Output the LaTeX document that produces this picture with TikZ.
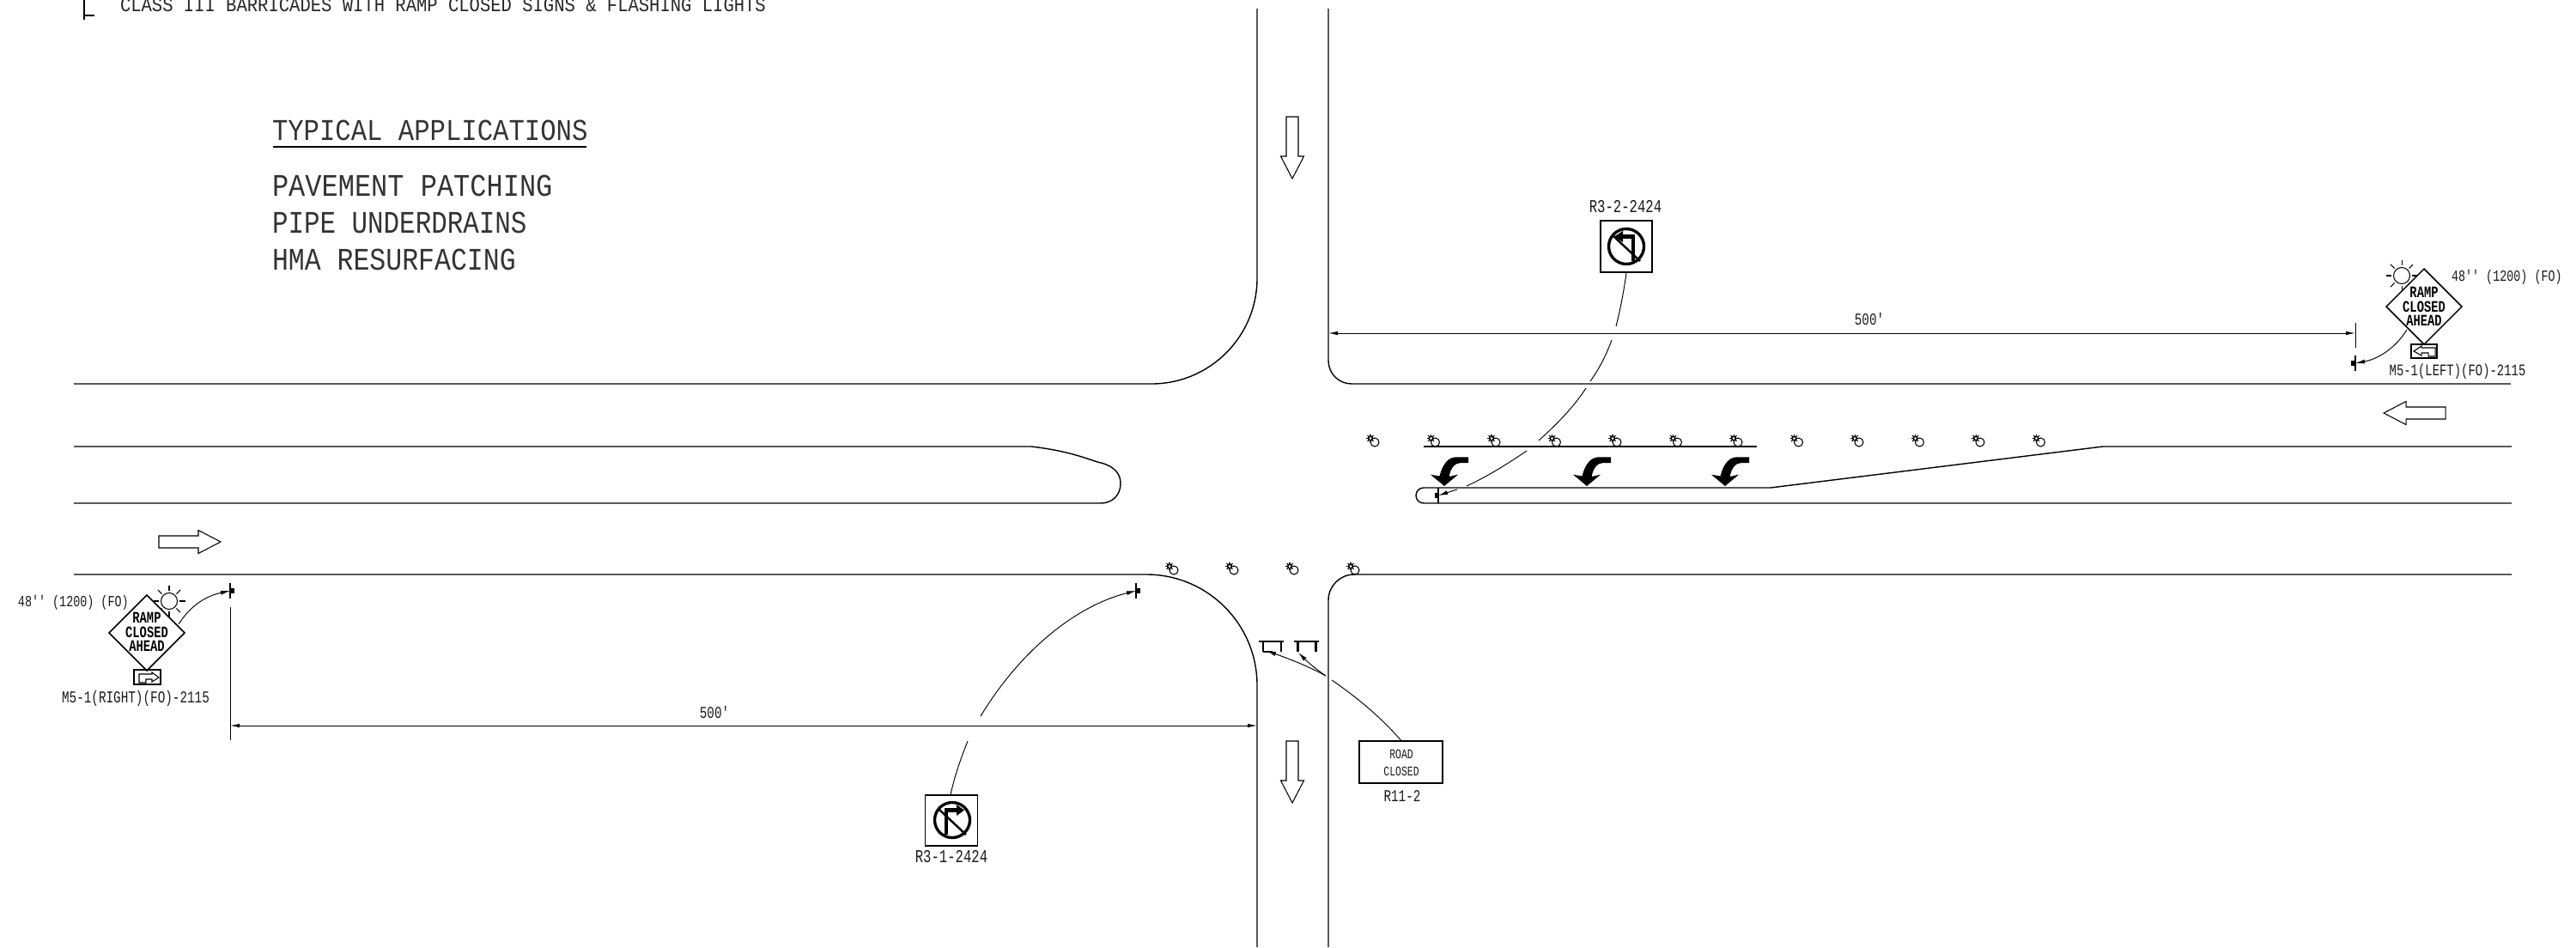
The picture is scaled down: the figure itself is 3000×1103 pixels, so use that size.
\documentclass[tikz,border=0pt]{standalone}
\usepackage{fontspec}
\usetikzlibrary{arrows.meta}
\newfontfamily\cadA[FakeStretch=0.875]{Liberation Mono}
\newfontfamily\cadT[FakeStretch=0.885]{Liberation Mono}
\newfontfamily\cadB[FakeStretch=0.74]{Liberation Mono}
\tikzset{
  road/.style={draw=black,line width=0.4pt},
  lead/.style={draw=black,line width=0.27pt},
  leadtip/.style={lead,-{Latex[length=1.1mm,width=0.5mm]}},
  dimline/.style={lead,{Latex[length=1.1mm,width=0.45mm]}-{Latex[length=1.1mm,width=0.45mm]}},
  cad/.style={inner sep=0pt,outer sep=0pt,anchor=base west},
  cadc/.style={inner sep=0pt,outer sep=0pt,anchor=base},
  bigtxt/.style={cad,text=black!80,font=\cadA\fontsize{10}{10}\selectfont},
  bodytxt/.style={cad,text=black!80,font=\cadA\fontsize{10.4}{10}\selectfont},
  toptxt/.style={cad,text=black!85,font=\cadT\fontsize{6.6}{7}\selectfont},
  smalltxt/.style={cadc,text=black!90,font=\cadB\fontsize{5.5}{6}\selectfont},
  codetxt/.style={cadc,text=black!90,font=\cadB\fontsize{6.0}{6}\selectfont},
  smalll/.style={cad,text=black!90,font=\cadB\fontsize{5.15}{6}\selectfont},
  signtxt/.style={cadc,font=\cadB\bfseries\fontsize{5.3}{6}\selectfont},
  roadtxt/.style={cadc,text=black!90,font=\cadB\fontsize{4.4}{5}\selectfont},
  light/.pic={
    \draw[line width=0.3pt] (0,0) circle (5);
    \draw[line width=0.45pt,fill=white] (-5,-4.5) circle (2.3);
    \foreach \a in {0,45,...,315}{\draw[line width=0.3pt] (-5,-4.5)++(\a:2.3) -- ++(\a:2.6);}
  },
  sunsym/.pic={
    \draw[line width=0.3pt] (0,0) circle (9.5);
    \foreach \a in {0,45,...,315}{\draw[line width=0.3pt] (\a:12) -- (\a:18.5);}
  },
  hollow/.pic={
    \draw[line width=0.3pt,fill=white] (0,-7) -- (46,-7) -- (46,-13.5) -- (72,0) -- (46,13.5) -- (46,7) -- (0,7) -- cycle;
  },
  turnarrow/.pic={
    \fill (0,0) -- (-16,-13.3) -- (-5.5,-11.5) .. controls (-2,-26) and (5,-33.7) .. (14,-33.7)
      -- (28,-33.7) -- (28,-27) -- (19,-27) .. controls (12,-27) and (7,-20) .. (5.7,-11) -- (16,-13.3) -- cycle;
  },
  noturnR/.pic={
    \draw[line width=0.95pt] (0,0) circle (20.5);
    \draw[line width=0.7pt] (-16,-13) -- (16,17);
    \draw[line width=1.3pt] (-7,17) -- (-7,-11.5) -- (7,-11.5);
    \fill (5,-18) -- (14,-11.5) -- (5,-5) -- cycle;
  },
  noturnL/.pic={
    \draw[line width=0.95pt] (0,0) circle (20.5);
    \draw[line width=0.7pt] (-16,-13) -- (16,17);
    \draw[line width=1.3pt] (8,17) -- (8,-11.5) -- (-6,-11.5);
    \fill (-4,-18) -- (-14,-11.5) -- (-4,-5) -- cycle;
  },
  barr/.pic={
    \draw[line width=0.65pt] (0,0) -- (29,0);
    \draw[line width=0.65pt] (5,0) -- (5,12);
    \draw[line width=0.65pt] (26,0) -- (26,12);
  },
  postr/.pic={
    \draw[line width=0.45pt] (0,-9) -- (0,9);
    \fill (0,-3) rectangle (5,3);
  },
  postl/.pic={
    \draw[line width=0.45pt] (0,-9) -- (0,9);
    \fill (0,-3) rectangle (-5,3);
  }
}
\begin{document}
\begin{tikzpicture}[x=0.01cm,y=-0.01cm]
\useasboundingbox (0,0) rectangle (3000,1103);

% ---- notes
\draw[line width=0.5pt] (98,-2) -- (98,23);
\draw[line width=0.5pt] (98,18) -- (110,18);
\node[toptxt] (note) at (140,14) {CLASS III BARRICADES WITH RAMP CLOSED SIGNS \& FLASHING LIGHTS};
\node[bigtxt] (typ) at (317,163) {\scalebox{0.995}[1]{TYPICAL APPLICATIONS}};
\draw[line width=0.55pt] (318,171) -- (683,171);
\node[bodytxt] (pav) at (317,228) {PAVEMENT PATCHING};
\node[bodytxt] (pipe) at (317,271) {\scalebox{0.965}[1]{PIPE UNDERDRAINS}};
\node[bodytxt] (hma) at (317,314) {\scalebox{0.985}[1]{HMA RESURFACING}};

% ---- road edges
\path[road] (1464,10) -- (1464,324) arc[start angle=0,end angle=90,radius=123] -- (86,447);
\path[road] (1547,10) -- (1547,420) arc[start angle=180,end angle=90,radius=27] -- (2924,447);
\path[road] (86,520) -- (1201,520) .. controls (1235,524) and (1255,530) .. (1278,538)
   .. controls (1298,542) and (1305,552) .. (1305,563) .. controls (1305,577) and (1295,586) .. (1282,586) -- (86,586);
\path[road] (2925,520) -- (2449,520) -- (2062,568) -- (1658,568)
   arc[start angle=270,end angle=90,radius=9] -- (2925,586);
\path[road] (86,669) -- (1335,669) arc[start angle=-90,end angle=0,radius=129] -- (1464,1103);
\path[road] (1547,1103) -- (1547,699) arc[start angle=180,end angle=270,radius=30] -- (2925,669);
\path[road] (1658,520) -- (2046,520);

% ---- direction arrows
\pic at (185,631) {hollow};
\pic[rotate=180] at (2848,481) {hollow};
\pic[rotate=-90] at (1505,136) {hollow};
\pic[rotate=-90] at (1505,863) {hollow};

% ---- lights
\foreach \i in {0,...,11}{\pic at ({1601+70.5*\i},515) {light};}
\foreach \x in {1367,1437,1507,1578}{\pic at (\x,664) {light};}

% ---- turn arrows
\pic at (1682,566) {turnarrow};
\pic at (1848,566) {turnarrow};
\pic at (2009,566) {turnarrow};

% ---- dimensions
\coordinate (dimTL) at (1547,388);
\coordinate (dimTR) at (2743,388);
\coordinate (dimBL) at (268,845);
\coordinate (dimBR) at (1464,845);
\path[dimline] (dimTL) -- (dimTR);
\path[dimline] (dimBL) -- (dimBR);
\draw[lead] (2743,376) -- (2743,405);
\draw[lead] (268,707) -- (268,862);
\node[smalltxt] (d1) at (2177,378) {500'};
\node[smalltxt] (d2) at (832,836) {500'};

% ---- post marks
\pic at (268,688) {postr};
\pic at (2743,423) {postl};
\pic at (1323,688) {postr};
\draw[line width=0.45pt] (1675,568) -- (1675,586);
\fill (1671,574) rectangle (1675,580);
\coordinate (p1) at (268,688);
\coordinate (p2) at (2743,423);
\coordinate (p3) at (1323,688);
\coordinate (p4) at (1675,577);

% ---- left ramp sign
\pic at (197,700) {sunsym};
\draw[line width=0.42pt,fill=white] (171,693) -- (215,737) -- (171,781) -- (127,737) -- cycle;
\node[signtxt] (rl1) at (171,725) {RAMP};
\node[signtxt] (rl2) at (171,742) {CLOSED};
\node[signtxt] (rl3) at (171,758) {AHEAD};
\draw[line width=0.42pt] (156,780) rectangle (187,797);
\draw[line width=0.3pt] (162,795) -- (162,785) -- (177,785) -- (177,783) -- (185,789) -- (177,794) -- (177,791) -- (170,791) -- (170,795) -- cycle;
\node[smalltxt] (m5r) at (158,818) {M5-1(RIGHT)(FO)-2115};
\node[smalll] (s48l) at (21,706) {48'' (1200) (FO)};
\coordinate (rlE) at (208,727);
\path[leadtip] (rlE) .. controls (222,705) and (240,694) .. (p1);

% ---- right ramp sign
\pic at (2797,321) {sunsym};
\draw[line width=0.42pt,fill=white] (2823,313) -- (2867,357) -- (2823,401) -- (2779,357) -- cycle;
\node[signtxt] (rr1) at (2823,346) {RAMP};
\node[signtxt] (rr2) at (2823,363) {CLOSED};
\node[signtxt] (rr3) at (2823,379) {AHEAD};
\draw[line width=0.42pt] (2808,401) rectangle (2838,417);
\draw[line width=0.3pt] (2836,415) -- (2836,405) -- (2820,405) -- (2820,403) -- (2811,409) -- (2820,414) -- (2820,411) -- (2828,411) -- (2828,415) -- cycle;
\node[smalltxt,font=\cadB\fontsize{5.35}{6}\selectfont] (m5l) at (2862,437) {M5-1(LEFT)(FO)-2115};
\node[smalll] (s48r) at (2855,327) {48'' (1200) (FO)};
\coordinate (rrE) at (2803,384);
\path[leadtip] (rrE) .. controls (2790,405) and (2770,418) .. (p2);

% ---- R3-1
\node[draw=black,line width=0.35pt,minimum width=0.61cm,minimum height=0.59cm,inner sep=0pt,fill=white] (r31) at (1108,955.5) {};
\pic at (1109,955) {noturnR};
\node[codetxt] (r31t) at (1108,1004) {R3-1-2424};
\path[lead] (r31.north) ++(-1,0) .. controls (1112,903) and (1119,883) .. (1127,863);
\path[leadtip] (1142,834) .. controls (1190,755) and (1255,705) .. (p3);

% ---- R3-2
\node[draw=black,line width=0.35pt,minimum width=0.60cm,minimum height=0.60cm,inner sep=0pt,fill=white] (r32) at (1894,287) {};
\pic at (1894,287) {noturnL};
\node[codetxt] (r32t) at (1893,247) {R3-2-2424};
\path[lead] (r32.south) .. controls (1891,340) and (1887,360) .. (1882,380);
\path[lead] (1877,396) .. controls (1870,415) and (1862,430) .. (1852,444);
\path[lead] (1847,452) .. controls (1832,475) and (1812,495) .. (1792,513);
\path[lead] (1778,525) .. controls (1756,540) and (1732,555) .. (1708,566);
\path[leadtip] (1697,570) -- (p4);

% ---- road closed
\node[draw=black,line width=0.45pt,minimum width=0.97cm,minimum height=0.49cm,inner sep=0pt] (rc) at (1631.5,887.5) {};
\node[roadtxt] (rc1) at (1632,883) {ROAD};
\node[roadtxt] (rc2) at (1632,903) {CLOSED};
\node[smalltxt] (rct) at (1633,933) {R11-2};
\pic at (1466,747) {barr};
\pic at (1506.5,747) {barr};
\draw[line width=0.4pt] (1471,759) -- (1482,759);
\coordinate (bA) at (1475,758);
\coordinate (bB) at (1512,760);
\coordinate (bJ) at (1544,787);
\path[lead] (rc.north) .. controls (1608,835) and (1580,812) .. (1551,792);
\path[leadtip] (bJ) .. controls (1522,775) and (1498,766) .. (bA);
\path[leadtip] (bJ) .. controls (1532,779) and (1522,770) .. (bB);
\end{tikzpicture}
\end{document}
